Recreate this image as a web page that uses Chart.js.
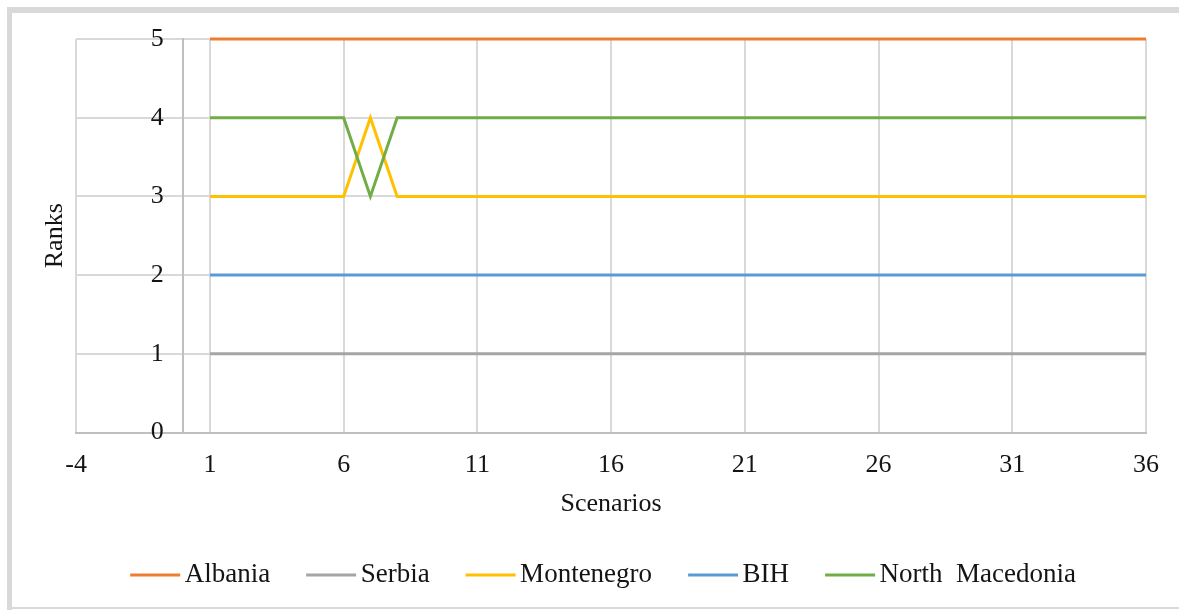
<!DOCTYPE html>
<html>
<head>
<meta charset="utf-8">
<script src="https://cdn.jsdelivr.net/npm/chart.js@4.4.1/dist/chart.umd.min.js"></script>
<style>
  html, body { margin: 0; padding: 0; background: #fff; overflow: hidden; }
  #wrap { position: relative; width: 1179px; height: 610px; }
</style>
</head>
<body>
<div id="wrap"><canvas id="c" width="1179" height="610"></canvas></div>
<script>
// Scenario numbers (x values)
const scenarios = [1, 2, 3, 4, 5, 6, 7, 8, 9, 10, 11, 12, 13, 14, 15, 16, 17, 18,
                   19, 20, 21, 22, 23, 24, 25, 26, 27, 28, 29, 30, 31, 32, 33, 34, 35, 36];

// Axis tick labels
const xTicks = [-4, 1, 6, 11, 16, 21, 26, 31, 36];
const yTicks = [0, 1, 2, 3, 4, 5];

// Rank of each country per scenario
const albania        = [5, 5, 5, 5, 5, 5, 5, 5, 5, 5, 5, 5, 5, 5, 5, 5, 5, 5,
                        5, 5, 5, 5, 5, 5, 5, 5, 5, 5, 5, 5, 5, 5, 5, 5, 5, 5];
const serbia         = [1, 1, 1, 1, 1, 1, 1, 1, 1, 1, 1, 1, 1, 1, 1, 1, 1, 1,
                        1, 1, 1, 1, 1, 1, 1, 1, 1, 1, 1, 1, 1, 1, 1, 1, 1, 1];
const montenegro     = [3, 3, 3, 3, 3, 3, 4, 3, 3, 3, 3, 3, 3, 3, 3, 3, 3, 3,
                        3, 3, 3, 3, 3, 3, 3, 3, 3, 3, 3, 3, 3, 3, 3, 3, 3, 3];
const bih            = [2, 2, 2, 2, 2, 2, 2, 2, 2, 2, 2, 2, 2, 2, 2, 2, 2, 2,
                        2, 2, 2, 2, 2, 2, 2, 2, 2, 2, 2, 2, 2, 2, 2, 2, 2, 2];
const northMacedonia = [4, 4, 4, 4, 4, 4, 3, 4, 4, 4, 4, 4, 4, 4, 4, 4, 4, 4,
                        4, 4, 4, 4, 4, 4, 4, 4, 4, 4, 4, 4, 4, 4, 4, 4, 4, 4];

const FONT = '"Liberation Serif", "Times New Roman", serif';
const TEXT = '#141414';
Chart.defaults.font.family = FONT;
Chart.defaults.color = TEXT;

const toPoints = vals => vals.map((v, i) => ({ x: scenarios[i], y: v }));

function series(label, values, color, order) {
  return {
    label, data: toPoints(values), order,
    borderColor: color, backgroundColor: color,
    borderWidth: 3, pointRadius: 0, pointHoverRadius: 0, tension: 0,
    clip: false,
    xAxisID: 'x', yAxisID: 'y'
  };
}

// Light grey frame around the chart
const framePlugin = {
  id: 'frame',
  beforeDraw(chart) {
    const ctx = chart.ctx;
    ctx.save();
    ctx.fillStyle = '#ffffff';
    ctx.fillRect(0, 0, chart.width, chart.height);
    ctx.fillStyle = '#d9d9d9';
    ctx.fillRect(7, 7, chart.width - 7, 6);
    ctx.fillRect(7, 7, 5, chart.height - 7);
    ctx.fillRect(7, 607, chart.width - 7, 2);
    ctx.restore();
  }
};

// Legend sits a little left of the plot centre
const legendShiftPlugin = {
  id: 'legendShift',
  afterLayout(chart) {
    const lg = chart.legend;
    if (!lg) return;
    lg.left -= 8;
    lg.right -= 8;
  }
};

// Legend keys drawn as short line segments
const legendLinePlugin = {
  id: 'legendLines',
  afterDraw(chart) {
    const lg = chart.legend;
    if (!lg || !lg.legendHitBoxes) return;
    const ctx = chart.ctx;
    ctx.save();
    lg.legendHitBoxes.forEach((hb, i) => {
      const ds = chart.data.datasets[lg.legendItems[i].datasetIndex];
      ctx.fillStyle = ds.borderColor;
      ctx.fillRect(hb.left, Math.round(hb.top + hb.height / 2) - 1.5, 50, 3);
    });
    ctx.restore();
  }
};

new Chart(document.getElementById('c'), {
  type: 'line',
  data: {
    datasets: [
      series('Albania', albania, '#ED7D31', 5),
      series('Serbia', serbia, '#A5A5A5', 4),
      series('Montenegro', montenegro, '#FFC000', 3),
      series('BIH', bih, '#5B9BD5', 2),
      series('North  Macedonia', northMacedonia, '#70AD47', 1)
    ]
  },
  options: {
    responsive: false,
    animation: false,
    events: [],
    layout: { padding: { left: 20, right: 33, top: 39, bottom: 11.5 } },
    scales: {
      x: {
        type: 'linear', min: -4, max: 36,
        afterBuildTicks: s => { s.ticks = xTicks.map(v => ({ value: v })); },
        afterFit: s => { s.height = 93; },
        grid: { color: '#d9d9d9', lineWidth: 2, drawTicks: false },
        border: { color: '#bfbfbf', width: 2 },
        ticks: { padding: 17, font: { size: 26 }, color: TEXT, maxRotation: 0, autoSkip: false },
        title: { display: true, text: 'Scenarios', font: { size: 26 }, color: TEXT,
                 padding: { top: 0, bottom: 6 } }
      },
      y: {
        // vertical axis crosses the horizontal one at x = 0
        type: 'linear', position: { x: 0 }, min: 0, max: 5,
        afterBuildTicks: s => { s.ticks = yTicks.map(v => ({ value: v })); },
        grid: { color: '#d9d9d9', lineWidth: 2, drawTicks: false },
        border: { color: '#bfbfbf', width: 2 },
        // labels are right-aligned on the axis line; trailing spaces keep them clear of it
        ticks: { font: { size: 26 }, color: TEXT, callback: v => v + '   ' }
      },
      yTitle: {
        type: 'linear', axis: 'y', position: 'left', min: 0, max: 5,
        ticks: { display: false },
        grid: { display: false, drawTicks: false },
        border: { display: false },
        title: { display: true, text: 'Ranks', font: { size: 26 }, color: TEXT,
                 padding: { top: 20, bottom: 5 } }
      }
    },
    plugins: {
      tooltip: { enabled: false },
      legend: {
        position: 'bottom',
        fullSize: false,
        labels: {
          boxWidth: 41, boxHeight: 3, padding: 36,
          font: { size: 27 }, color: TEXT,
          generateLabels: chart => chart.data.datasets.map((ds, i) => ({
            text: ds.label, datasetIndex: i, hidden: false,
            fillStyle: 'rgba(0,0,0,0)', strokeStyle: 'rgba(0,0,0,0)',
            lineWidth: 0, fontColor: TEXT
          }))
        }
      }
    }
  },
  plugins: [framePlugin, legendShiftPlugin, legendLinePlugin]
});
</script>
</body>
</html>
